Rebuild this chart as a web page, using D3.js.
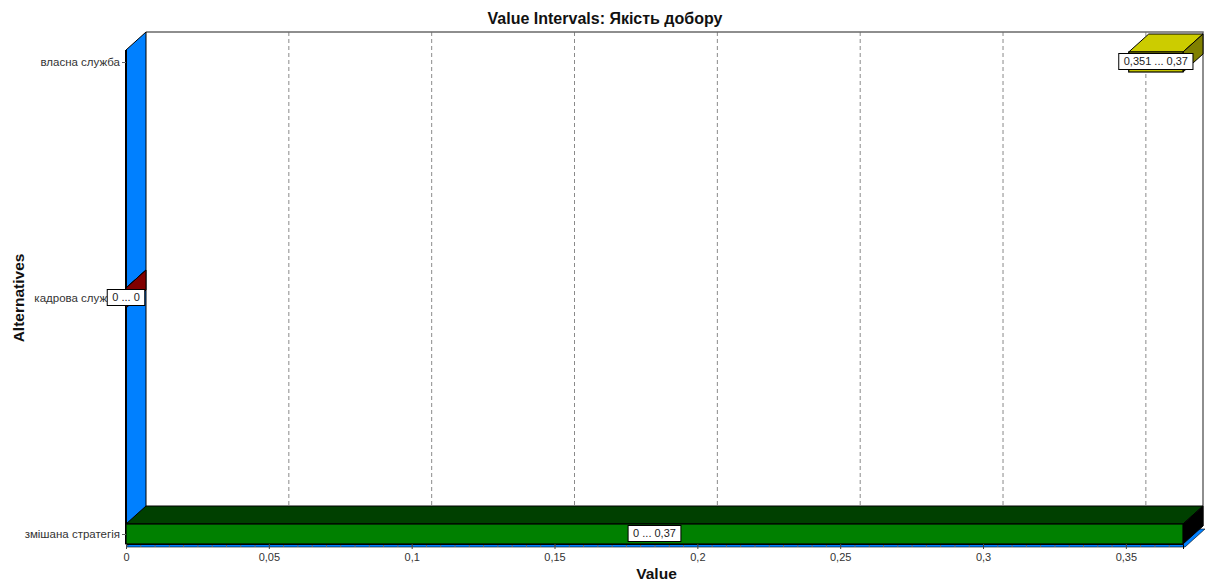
<!DOCTYPE html>
<html>
<head>
<meta charset="utf-8">
<script src="https://cdn.jsdelivr.net/npm/d3@7"></script>
<style>
  html, body { margin: 0; padding: 0; background: #ffffff; }
  svg { display: block; font-family: "Liberation Sans", Arial, sans-serif; }
</style>
</head>
<body>
<svg id="chart" width="1213" height="583"></svg>
<script>
// Alternatives and their value intervals
const alternatives = ["власна служба", "кадрова служба", "змішана стратегія"];
const lowValues = [0.351, 0, 0];
const highValues = [0.37, 0, 0.37];
const xTickValues = [0, 0.05, 0.1, 0.15, 0.2, 0.25, 0.3, 0.35];
const xDomain = [0, 0.37];

const chartTitle = "Value Intervals: Якість добору";
const xTitle = "Value";
const yTitle = "Alternatives";

// face colours for each bar: front, top, side
const barStyles = [
  { front: "#c4c400", top: "#cccc00", side: "#808000" },
  { front: "#a00000", top: "#800000", side: "#800000" },
  { front: "#008000", top: "#004000", side: "#000000" }
];

const svg = d3.select("#chart");

// 3D depth offset of the plot
const DX = 20, DY = -18;
const plot = { left: 126, right: 1183, top: 50, bottom: 544 };
const barHalf = 10;

const locale = d3.formatLocale({ decimal: ",", thousands: " ", grouping: [3], currency: ["", ""] });
const fmtTick = v => v === 0 ? "0" : locale.format(",.2~f")(v);
const fmtVal = v => v === 0 ? "0" : locale.format(",.3~f")(v);

const x = d3.scaleLinear().domain(xDomain).range([plot.left, plot.right]);
const y = d3.scalePoint().domain(alternatives).range([62, 534]);

const poly = pts => pts.map(p => p.join(",")).join(" ");

// back wall
svg.append("rect")
  .attr("x", plot.left + DX).attr("y", plot.top + DY)
  .attr("width", plot.right - plot.left).attr("height", plot.bottom - plot.top)
  .attr("fill", "#ffffff");

// vertical grid lines on the back wall
svg.append("g").selectAll("line")
  .data(xTickValues.filter(v => v > 0))
  .join("line")
  .attr("x1", d => x(d) + DX).attr("x2", d => x(d) + DX)
  .attr("y1", plot.top + DY).attr("y2", plot.bottom + DY)
  .attr("stroke", "#8a8a8a").attr("stroke-width", 1)
  .attr("stroke-dasharray", "4,3");

// back wall border (top and right)
svg.append("polyline")
  .attr("points", poly([
    [plot.left + DX, plot.top + DY],
    [plot.right + DX, plot.top + DY],
    [plot.right + DX, plot.bottom + DY]
  ]))
  .attr("fill", "none").attr("stroke", "#6a6a6a").attr("stroke-width", 1.5);

// floor (a thin slab, slightly below the axis plane)
const fl = 3;
svg.append("polygon")
  .attr("points", poly([
    [plot.left, plot.bottom + fl], [plot.right + 2, plot.bottom + fl],
    [plot.right + DX + 2, plot.bottom + DY + fl], [plot.left + DX, plot.bottom + DY + fl]
  ]))
  .attr("fill", "#0080ff").attr("stroke", "#000").attr("stroke-width", 0.6);

// left wall
svg.append("polygon")
  .attr("points", poly([
    [plot.left, plot.top], [plot.left + DX, plot.top + DY],
    [plot.left + DX, plot.bottom + DY], [plot.left, plot.bottom]
  ]))
  .attr("fill", "#0080ff").attr("stroke", "#000").attr("stroke-width", 1);
svg.append("line")
  .attr("x1", plot.left).attr("x2", plot.left)
  .attr("y1", plot.top).attr("y2", plot.bottom)
  .attr("stroke", "#000").attr("stroke-width", 2);

// interval bars
const rows = alternatives.map((a, i) => ({ name: a, lo: lowValues[i], hi: highValues[i], style: barStyles[i] }));
const bars = svg.append("g");
rows.forEach(r => {
  const x0 = x(r.lo), x1 = x(r.hi), yc = y(r.name);
  const yt = yc - barHalf, yb = yc + barHalf;
  const g = bars.append("g");
  // top face
  g.append("polygon")
    .attr("points", poly([[x0, yt], [x1, yt], [x1 + DX, yt + DY], [x0 + DX, yt + DY]]))
    .attr("fill", r.style.top).attr("stroke", "#000").attr("stroke-width", 1);
  // side face
  g.append("polygon")
    .attr("points", poly([[x1, yt], [x1 + DX, yt + DY], [x1 + DX, yb + DY], [x1, yb]]))
    .attr("fill", r.style.side).attr("stroke", "#000").attr("stroke-width", 1);
  // front face
  if (x1 > x0) {
    g.append("rect")
      .attr("x", x0).attr("y", yt).attr("width", x1 - x0).attr("height", yb - yt)
      .attr("fill", r.style.front).attr("stroke", "#000").attr("stroke-width", 1.2);
  }
});

// x axis: minor and major ticks
const axisY = plot.bottom;
const minorTicks = d3.range(0, 0.3701, 0.005).map(v => +v.toFixed(3));
svg.append("g")
  .attr("transform", `translate(0,${axisY})`)
  .call(d3.axisBottom(x).tickValues(minorTicks).tickSize(3).tickFormat(""))
  .call(g => g.select(".domain").remove())
  .call(g => g.selectAll("line").attr("stroke", "#666"));
svg.append("g")
  .attr("transform", `translate(0,${axisY})`)
  .call(d3.axisBottom(x).tickValues(xTickValues).tickSize(5).tickPadding(4).tickFormat(fmtTick))
  .call(g => g.select(".domain").attr("stroke", "#000"))
  .call(g => g.selectAll("line").attr("stroke", "#444"))
  .call(g => g.selectAll("text").attr("font-size", 11).attr("fill", "#333")
    .attr("font-family", "Liberation Sans, Arial, sans-serif"));

// y axis
svg.append("g")
  .attr("transform", `translate(${plot.left},0)`)
  .call(d3.axisLeft(y).tickSize(4).tickPadding(2))
  .call(g => g.select(".domain").remove())
  .call(g => g.selectAll("line").attr("stroke", "#666"))
  .call(g => g.selectAll("text").attr("font-size", 11.5).attr("fill", "#333")
    .attr("font-family", "Liberation Sans, Arial, sans-serif"));

// value labels on each bar's front face
const labels = svg.append("g");
rows.forEach(r => {
  const cx = (x(r.lo) + x(r.hi)) / 2, cy = y(r.name) - 0.5;
  const g = labels.append("g");
  const t = g.append("text")
    .attr("x", cx).attr("y", cy).attr("dy", "0.35em")
    .attr("text-anchor", "middle").attr("font-size", 11).attr("fill", "#222")
    .text(`${fmtVal(r.lo)} ... ${fmtVal(r.hi)}`);
  const w = t.node().getComputedTextLength() + 10;
  g.insert("rect", "text")
    .attr("x", cx - w / 2).attr("y", cy - 8).attr("width", w).attr("height", 16)
    .attr("fill", "#fff").attr("stroke", "#000").attr("stroke-width", 1);
});

// titles
svg.append("text")
  .attr("x", 605).attr("y", 24).attr("text-anchor", "middle")
  .attr("font-size", 16).attr("font-weight", "bold").attr("fill", "#111")
  .text(chartTitle);
svg.append("text")
  .attr("x", (plot.left + plot.right) / 2 + 2).attr("y", 579).attr("text-anchor", "middle")
  .attr("font-size", 15.5).attr("font-weight", "bold").attr("fill", "#111")
  .text(xTitle);
svg.append("text")
  .attr("transform", `translate(24,298) rotate(-90)`)
  .attr("text-anchor", "middle")
  .attr("font-size", 15.5).attr("font-weight", "bold").attr("fill", "#111")
  .text(yTitle);
</script>
</body>
</html>
